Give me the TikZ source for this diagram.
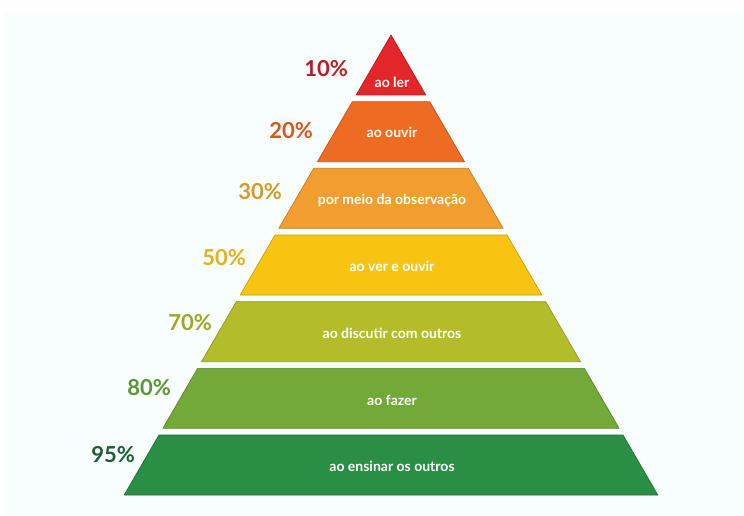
\documentclass[tikz,border=0pt]{standalone}
\usepackage{fontspec}
\setmainfont{Lato}
\usetikzlibrary{positioning}

\definecolor{layred}{HTML}{E2262A}
\definecolor{layorange}{HTML}{EE6B23}
\definecolor{layamber}{HTML}{F29D2F}
\definecolor{layyellow}{HTML}{F7C412}
\definecolor{layolive}{HTML}{B3BD2A}
\definecolor{laygreen}{HTML}{72A938}
\definecolor{laydark}{HTML}{2B8E45}
\definecolor{pctred}{HTML}{B41F25}
\definecolor{pctorange}{HTML}{D5561E}
\definecolor{pctamber}{HTML}{D39A2A}
\definecolor{pctyellow}{HTML}{DFB318}
\definecolor{pctolive}{HTML}{9CA728}
\definecolor{pctgreen}{HTML}{5C9534}
\definecolor{pctdark}{HTML}{1E5E33}
\definecolor{paper}{HTML}{F8FDFD}

\tikzset{
  % Coloured slice of the pyramid
  slice/.style={line width=0.7pt, line join=round},
  % White caption inside a slice
  sliceText/.style={
    text=white, font=\fontsize{14}{16}\selectfont\bfseries,
    inner sep=0pt, anchor=base
  },
  % Percentage to the left of a slice
  pctLabel/.style={
    font=\fontsize{22}{24}\selectfont\bfseries,
    inner sep=0pt, anchor=base east
  }
}

\begin{document}
\begin{tikzpicture}[x=1pt, y=-1pt]

% ============================================================
% PAGE
% ============================================================
\useasboundingbox (0,0) rectangle (744,516);
\fill[white] (0,0) rectangle (744,516);
\fill[paper] (4,12) rectangle (740,516);

% ============================================================
% PYRAMID -- apex at (391,35), slope 0.58, slices 60 high
% ============================================================
\foreach \k/\cl/\pct/\px/\py/\ty/\txt in {
  0/red/10/348/77/88/ao ler,
  1/orange/20/313/139/138/ao ouvir,
  2/amber/30/282/199/204/por meio da observação,
  3/yellow/50/246/265/271/ao ver e ouvir,
  4/olive/70/212/330/338/ao discutir com outros,
  5/green/80/171/395/405/ao fazer,
  6/dark/95/135/462/471/ao ensinar os outros}{
  \pgfmathsetmacro\ytop{35+66.67*\k}
  \pgfmathsetmacro\ybot{\ytop+60}
  \pgfmathsetmacro\wtop{0.58*(\ytop-35)}
  \pgfmathsetmacro\wbot{0.58*(\ybot-35)}
  \filldraw[slice, fill=lay\cl, draw=lay\cl!80!black]
    (391-\wtop,\ytop) -- (391+\wtop,\ytop) -- (391+\wbot,\ybot) -- (391-\wbot,\ybot) -- cycle;
  \node[sliceText] (txt-\k) at (392,\ty) {\txt};
  \node[pctLabel, text=pct\cl] (pct-\k) at (\px,\py) {\pct\%};
}

\end{tikzpicture}
\end{document}
